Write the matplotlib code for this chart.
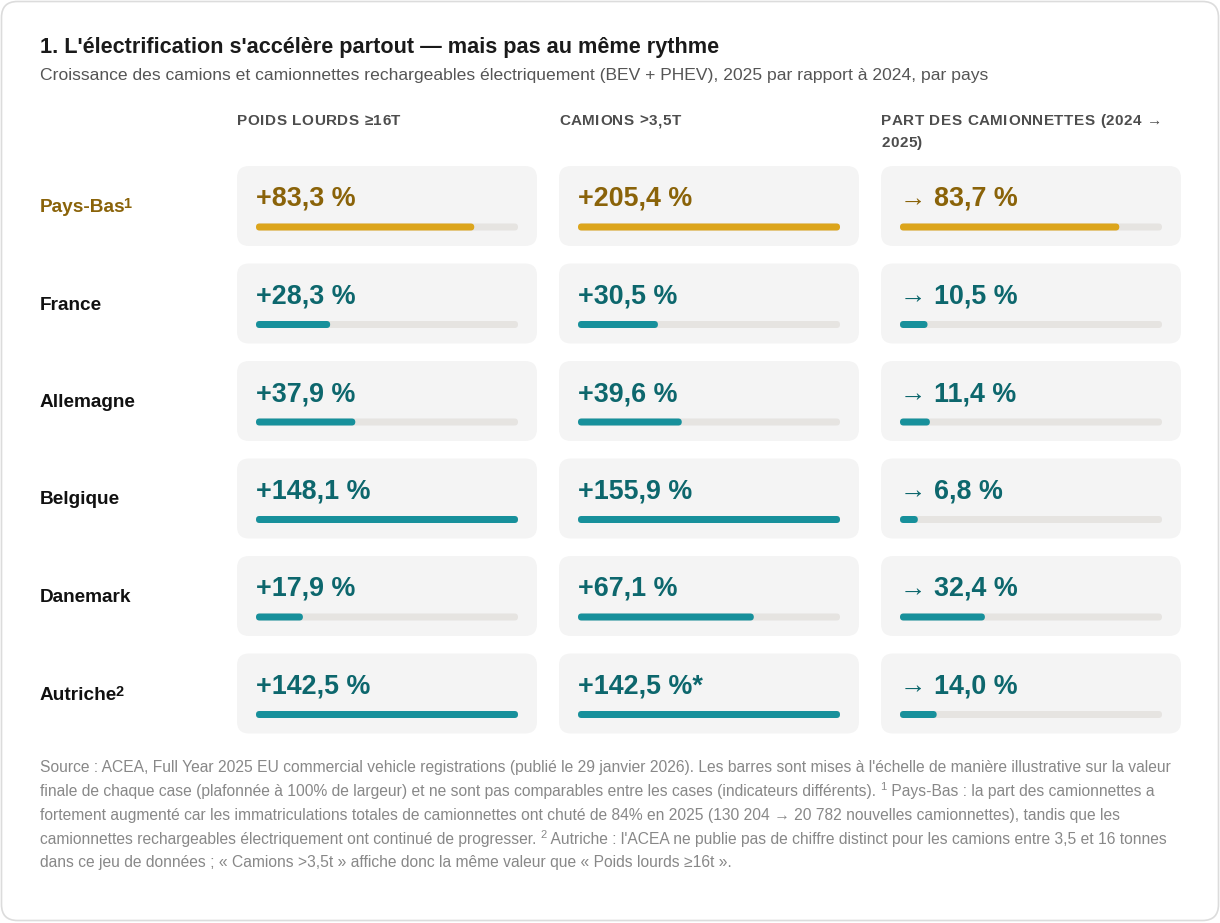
import matplotlib
matplotlib.use("Agg")
import matplotlib.pyplot as plt
from matplotlib.patches import FancyBboxPatch

plt.rcParams['font.family'] = ['Liberation Sans', 'DejaVu Sans']

# data
countries = ["Pays-Bas", "France", "Allemagne", "Belgique", "Danemark", "Autriche"]
notes = ["1", "", "", "", "", "2"]
heavy = [83.3, 28.3, 37.9, 148.1, 17.9, 142.5]
trucks = [205.4, 30.5, 39.6, 155.9, 67.1, 142.5]
van_share = [83.7, 10.5, 11.4, 6.8, 32.4, 14.0]
trucks_star = [False, False, False, False, False, True]
headers = [["POIDS LOURDS ≥16T"], ["CAMIONS >3,5T"], ["PART DES CAMIONNETTES (2024 →", "2025)"]]
highlight = "Pays-Bas"

title = "1. L'électrification s'accélère partout — mais pas au même rythme"
subtitle = ("Croissance des camions et camionnettes rechargeables électriquement "
            "(BEV + PHEV), 2025 par rapport à 2024, par pays")
foot = [
    [("Source : ACEA, Full Year 2025 EU commercial vehicle registrations (publié le 29 janvier 2026). "
      "Les barres sont mises à l'échelle de manière illustrative sur la valeur", False)],
    [("finale de chaque case (plafonnée à 100% de largeur) et ne sont pas comparables entre les cases "
      "(indicateurs différents). ", False), ("1", True),
     (" Pays-Bas : la part des camionnettes a", False)],
    [("fortement augmenté car les immatriculations totales de camionnettes ont chuté de 84% en 2025 "
      "(130 204 → 20 782 nouvelles camionnettes), tandis que les", False)],
    [("camionnettes rechargeables électriquement ont continué de progresser. ", False), ("2", True),
     (" Autriche : l'ACEA ne publie pas de chiffre distinct pour les camions entre 3,5 et 16 tonnes", False)],
    [("dans ce jeu de données ; « Camions >3,5t » affiche donc la même valeur que « Poids lourds ≥16t ».", False)],
]

W, H = 1220, 923
fig = plt.figure(figsize=(W / 100, H / 100), dpi=100)
fig.patch.set_facecolor("white")
ax = fig.add_axes([0, 0, 1, 1])
ax.set_xlim(0, W)
ax.set_ylim(H, 0)
ax.axis("off")
renderer = fig.canvas.get_renderer()

TEAL_TXT, TEAL_BAR = "#0d676d", "#17909b"
GOLD_TXT, GOLD_BAR = "#8a6309", "#dca51c"
TRACK, CELL = "#e6e4e1", "#f4f4f4"


def fmt(v):
    return ("%.1f" % v).replace(".", ",")


def runs(x, y, parts, **kw):
    # parts: (text, fontsize, dy, weight)
    for txt, fs, dy, wt in parts:
        t = ax.text(x, y + dy, txt, fontsize=fs, fontweight=wt, va="baseline", ha="left", **kw)
        x += t.get_window_extent(renderer).width
    return x


def spaced(x, y, s, spacing, **kw):
    # uppercase headers have a little letter spacing
    for ch in s:
        t = ax.text(x, y, ch, va="baseline", ha="left", **kw)
        if ch == " ":
            w = ax.text(0, 0, "a a", **kw)
            w2 = ax.text(0, 0, "aa", **kw)
            adv = w.get_window_extent(renderer).width - w2.get_window_extent(renderer).width
            w.remove()
            w2.remove()
        else:
            adv = t.get_window_extent(renderer).width
        x += adv + spacing


card = FancyBboxPatch((1.5, 1.5), W - 3, H - 4, boxstyle="round,pad=0,rounding_size=16",
                      fc="white", ec="#dcdcdc", lw=1.2)
ax.add_patch(card)

ax.text(40, 53, title, fontsize=15.6, fontweight="bold", color="#1a1a1a", va="baseline")
ax.text(40, 80, subtitle, fontsize=12.6, color="#555555", va="baseline")

col_x = [237, 559, 881]
cw, ch = 300, 80
for cx, hd in zip(col_x, headers):
    for k, line in enumerate(hd):
        spaced(cx, 125 + 22 * k, line, 0.55, fontsize=11, fontweight="bold", color="#4d4d4d")

row_top = [166, 263.5, 361, 458.5, 556, 653.5]
for i, name in enumerate(countries):
    top = row_top[i]
    hl = name == highlight
    txt_c = GOLD_TXT if hl else TEAL_TXT
    bar_c = GOLD_BAR if hl else TEAL_BAR
    lab_c = GOLD_TXT if hl else "#111111"
    end = runs(40, top + 46, [(name, 13.7, 0, "bold")], color=lab_c)
    if notes[i]:
        runs(end - 2, top + 42, [(notes[i], 10.5, 0, "bold")], color=lab_c)

    vals = [heavy[i], trucks[i], van_share[i]]
    for j, cx in enumerate(col_x):
        ax.add_patch(FancyBboxPatch((cx, top), cw, ch, boxstyle="round,pad=0,rounding_size=12",
                                    fc=CELL, ec="none"))
        v = vals[j]
        if j == 2:
            runs(cx + 19, top + 40, [("→", 19, 0, "normal"), (" ", 19.4, 0, "bold"),
                                     (fmt(v) + " %", 19.4, 0, "bold")], color=txt_c)
        else:
            label = "+" + fmt(v) + " %" + ("*" if j == 1 and trucks_star[i] else "")
            runs(cx + 19, top + 40, [(label, 19.4, 0, "bold")], color=txt_c)
        bx, bw, bh, by = cx + 19, 262, 7, top + 61 - 3.5
        ax.add_patch(FancyBboxPatch((bx, by), bw, bh, boxstyle="round,pad=0,rounding_size=3.5",
                                    fc=TRACK, ec="none"))
        frac = min(v / 100.0, 1.0)
        ax.add_patch(FancyBboxPatch((bx, by), bw * frac, bh, boxstyle="round,pad=0,rounding_size=3.5",
                                    fc=bar_c, ec="none"))

foot_y = [772, 796, 820, 844, 867]
for y, line in zip(foot_y, foot):
    parts = []
    for txt, sup in line:
        parts.append((txt, 8 if sup else 11.25, -6 if sup else 0, "normal"))
    runs(40, y, parts, color="#888888")

fig.savefig("out.png", dpi=100, facecolor=fig.get_facecolor())
